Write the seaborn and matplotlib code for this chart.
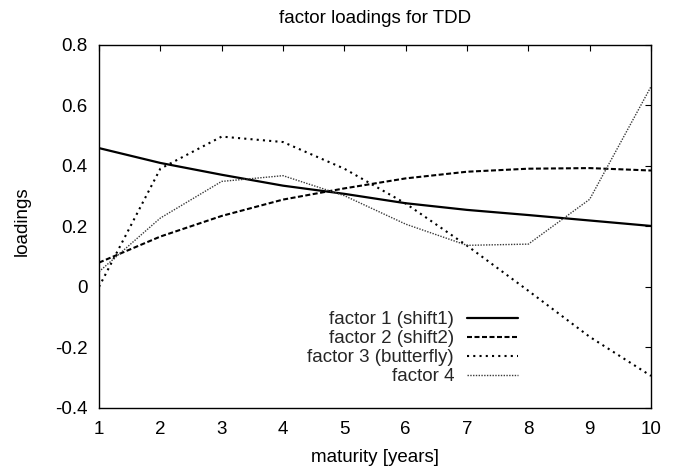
import matplotlib
matplotlib.use("Agg")
import matplotlib.pyplot as plt
import seaborn as sns

# maturities in years and the four factor loading curves
maturity = [1, 2, 3, 4, 5, 6, 7, 8, 9, 10]
factor1 = [0.458, 0.409, 0.370, 0.334, 0.307, 0.276, 0.254, 0.237, 0.219, 0.201]
factor2 = [0.080, 0.166, 0.234, 0.288, 0.325, 0.358, 0.380, 0.390, 0.392, 0.384]
factor3 = [0.000, 0.390, 0.496, 0.478, 0.390, 0.275, 0.136, -0.013, -0.165, -0.294]
factor4 = [0.050, 0.227, 0.348, 0.367, 0.301, 0.207, 0.137, 0.141, 0.289, 0.661]

labels = ["factor 1 (shift1)", "factor 2 (shift2)", "factor 3 (butterfly)", "factor 4"]
x_ticks = [1, 2, 3, 4, 5, 6, 7, 8, 9, 10]
y_ticks = [-0.4, -0.2, 0, 0.2, 0.4, 0.6, 0.8]
y_ticklabels = ["-0.4", "-0.2", "0", "0.2", "0.4", "0.6", "0.8"]

sns.set_theme(style="white")
plt.rcParams["font.family"] = ["Liberation Sans", "DejaVu Sans"]
plt.rcParams["axes.edgecolor"] = "black"
plt.rcParams["axes.linewidth"] = 1.0

FS = 13.5
W, H = 676, 468
fig = plt.figure(figsize=(W / 100, H / 100), dpi=100)
left, right, top, bottom = 99, 651, 44.5, 408
ax = fig.add_axes([left / W, 1 - bottom / H, (right - left) / W, (bottom - top) / H])

styles = [
    dict(color="black", lw=1.6, linestyle="-"),
    dict(color="black", lw=1.5, linestyle=(0, (2.4, 1.2))),
    dict(color="black", lw=1.5, linestyle=(0, (1, 2))),
    dict(color="#3a3a3a", lw=1.0, linestyle=(0, (1, 1))),
]
series = [factor1, factor2, factor3, factor4]
for vals, lab, st in zip(series, labels, styles):
    sns.lineplot(x=maturity, y=vals, ax=ax, label=lab, **st)

ax.set_xlim(1, 10)
ax.set_ylim(-0.4, 0.8)
ax.set_xticks(x_ticks)
ax.set_xticklabels([str(v) for v in x_ticks])
ax.set_yticks(y_ticks)
ax.set_yticklabels(y_ticklabels)
ax.tick_params(direction="in", top=True, right=True, length=4.3, width=0.8,
               color="black", labelsize=FS, labelcolor="black")
ax.tick_params(axis="x", pad=9.5)
ax.tick_params(axis="y", pad=8.3)
for s in ax.spines.values():
    s.set_visible(True)
    s.set_color("black")
    s.set_linewidth(1.0)

ax.set_xlabel("maturity [years]", fontsize=FS, color="black", va="baseline")
ax.xaxis.set_label_coords(0.5, (bottom - 461.7) / (bottom - top))
ax.set_ylabel("loadings", fontsize=FS, color="black", va="center")
ax.yaxis.set_label_coords((22.2 - left) / (right - left), (bottom - 220.8) / (bottom - top))

fig.text((left + right) / 2 / W, 1 - 23.3 / H, "factor loadings for TDD",
         ha="center", va="baseline", fontsize=FS, color="black")

leg = ax.legend(loc="upper right", bbox_to_anchor=(518 / W, 1 - 311.2 / H),
                bbox_transform=fig.transFigure, frameon=False, markerfirst=False,
                fontsize=FS, handlelength=2.72, handletextpad=0.69,
                labelspacing=0.10, borderpad=0, borderaxespad=0)

fig.savefig("out.png", dpi=100)
